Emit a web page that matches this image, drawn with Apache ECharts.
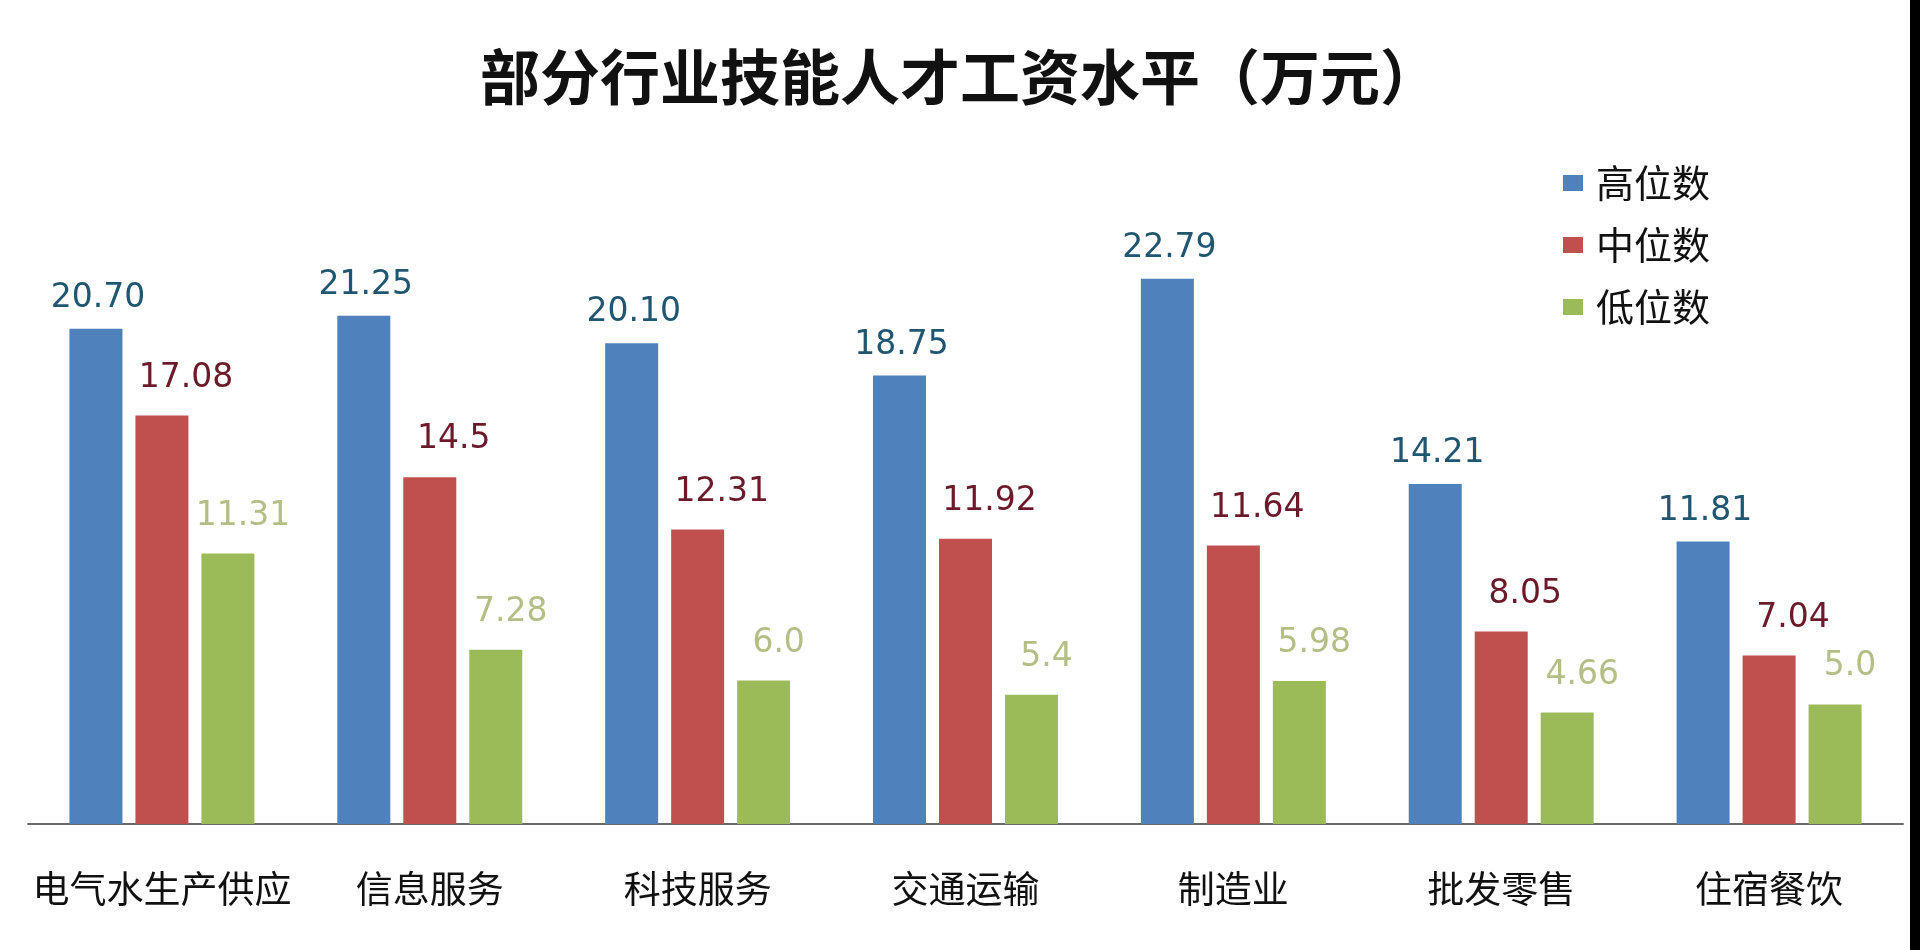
<!DOCTYPE html>
<html>
<head>
<meta charset="utf-8">
<title>部分行业技能人才工资水平</title>
<script src="https://cdn.jsdelivr.net/npm/echarts@6/dist/echarts.min.js"></script>
<style>
    html, body { margin: 0; padding: 0; background: #fff; }
    #container { width: 1920px; height: 950px; }
</style>
</head>
<body>
<div id="container"></div>
<script>
var categories = ['电气水生产供应', '信息服务', '科技服务', '交通运输', '制造业', '批发零售', '住宿餐饮'];
var seriesNames = ['高位数', '中位数', '低位数'];

var highValues = [20.70, 21.25, 20.10, 18.75, 22.79, 14.21, 11.81];
var midValues = [17.08, 14.5, 12.31, 11.92, 11.64, 8.05, 7.04];
var lowValues = [11.31, 7.28, 6.0, 5.4, 5.98, 4.66, 5.0];

// label text as printed on the chart (keeps trailing zeros)
var highLabels = ['20.70', '21.25', '20.10', '18.75', '22.79', '14.21', '11.81'];
var midLabels = ['17.08', '14.5', '12.31', '11.92', '11.64', '8.05', '7.04'];
var lowLabels = ['11.31', '7.28', '6.0', '5.4', '5.98', '4.66', '5.0'];

var chart = echarts.init(document.getElementById('container'));

function makeSeries(name, values, labels, barColor, labelColor, dist, dx) {
    return {
        name: name,
        type: 'bar',
        data: values,
        barWidth: 53,
        barGap: '24.5%',
        itemStyle: {
            color: barColor
        },
        label: {
            show: true,
            position: 'top',
            distance: dist,
            offset: [dx, 0],
            color: labelColor,
            fontFamily: 'DejaVu Sans',
            fontSize: 33,
            formatter: function (p) {
                return labels[p.dataIndex];
            }
        }
    };
}

var option = {
    backgroundColor: '#ffffff',
    animation: false,
    title: {
        text: '部分行业技能人才工资水平（万元）',
        left: 480,
        top: 47,
        padding: 0,
        textStyle: {
            fontFamily: 'Noto Sans CJK SC',
            fontWeight: 'bold',
            fontSize: 60,
            color: '#111'
        }
    },
    legend: {
        data: seriesNames,
        orient: 'vertical',
        left: 1563,
        top: 164,
        itemWidth: 20,
        itemHeight: 16,
        itemGap: 24,
        padding: 0,
        icon: 'rect',
        textStyle: {
            fontFamily: 'Noto Sans CJK SC',
            fontSize: 38,
            color: '#111',
            padding: [0, 0, 0, 8]
        }
    },
    grid: {
        left: 28,
        right: 17,
        top: 226,
        bottom: 126
    },
    xAxis: {
        type: 'category',
        data: categories,
        axisLine: {
            lineStyle: {
                color: '#6a6a6a',
                width: 2
            }
        },
        axisTick: { show: false },
        axisLabel: {
            margin: 46,
            fontFamily: 'Noto Sans CJK SC',
            fontSize: 37,
            color: '#111',
            interval: 0
        }
    },
    yAxis: {
        type: 'value',
        min: 0,
        max: 25,
        show: false,
        splitLine: { show: false }
    },
    graphic: [{
        type: 'rect',
        right: 0,
        top: 0,
        shape: { width: 10, height: 950 },
        style: { fill: '#000' }
    }],
    series: [
        makeSeries(seriesNames[0], highValues, highLabels, '#4F81BD', '#215670', 14, 2),
        makeSeries(seriesNames[1], midValues, midLabels, '#C0504D', '#6B1A2A', 21, 24),
        makeSeries(seriesNames[2], lowValues, lowLabels, '#9BBB59', '#B3BF86', 21, 15)
    ]
};
chart.setOption(option);

window.addEventListener('resize', function () {
    chart.resize();
});
</script>
</body>
</html>
